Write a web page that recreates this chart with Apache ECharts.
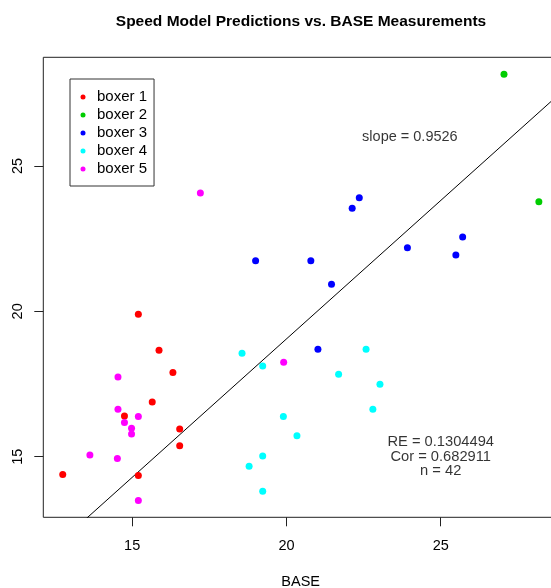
<!DOCTYPE html>
<html>
<head>
<meta charset="utf-8">
<script src="https://cdn.jsdelivr.net/npm/echarts@6/dist/echarts.min.js"></script>
<style>
  html, body { margin: 0; padding: 0; background: #fff; }
  #chart { width: 551px; height: 588px; }
</style>
</head>
<body>
<div id="chart"></div>
<script>
// BASE measurements (x) and model predictions (y) for each boxer
const boxer1Base = [15.20, 15.87, 16.32, 15.65, 14.75, 16.54, 16.54, 12.75, 15.20];
const boxer1Pred = [19.90, 18.66, 17.90, 16.88, 16.40, 15.95, 15.38, 14.39, 14.35];

const boxer2Base = [27.05, 28.18];
const boxer2Pred = [28.16, 23.77];

const boxer3Base = [22.36, 22.13, 25.71, 23.92, 25.49, 20.79, 19.00, 21.46, 21.02];
const boxer3Pred = [23.91, 23.55, 22.56, 22.19, 21.94, 21.74, 21.74, 20.93, 18.70];

const boxer4Base = [18.56, 19.23, 22.58, 21.69, 23.03, 22.80, 19.90, 20.34, 19.23, 18.79, 19.23];
const boxer4Pred = [18.56, 18.12, 18.70, 17.84, 17.49, 16.63, 16.38, 15.72, 15.02, 14.67, 13.81];

const boxer5Base = [17.21, 19.91, 14.54, 14.54, 15.20, 14.75, 14.98, 14.98, 13.63, 14.52, 15.20];
const boxer5Pred = [24.07, 18.25, 17.74, 16.63, 16.38, 16.18, 15.98, 15.78, 15.06, 14.94, 13.49];

const boxerNames = ['boxer 1', 'boxer 2', 'boxer 3', 'boxer 4', 'boxer 5'];
const boxerColors = ['#FF0000', '#00CD00', '#0000FF', '#00FFFF', '#FF00FF'];

// fitted line through the origin and summary statistics
const slope = 0.9526;
const relErr = '0.1304494';
const corr = '0.682911';
const nObs = 42;

// axis ranges and tick labels
const xRange = [12.12, 28.80];
const yRange = [12.915, 28.74];
const tickValues = [15, 20, 25];

const FONT = '"Liberation Sans", Arial, Helvetica, sans-serif';

const pairs = (xs, ys) => xs.map((x, i) => [x, ys[i]]);
const groups = [
  pairs(boxer1Base, boxer1Pred),
  pairs(boxer2Base, boxer2Pred),
  pairs(boxer3Base, boxer3Pred),
  pairs(boxer4Base, boxer4Pred),
  pairs(boxer5Base, boxer5Pred)
];

const chart = echarts.init(document.getElementById('chart'), null, { renderer: 'canvas' });

const pointSeries = groups.map((data, i) => ({
  name: boxerNames[i],
  type: 'scatter',
  data: data,
  symbol: 'circle',
  symbolSize: 7,
  itemStyle: { color: boxerColors[i], opacity: 1 },
  silent: true,
  z: 3
}));

const axisCommon = {
  type: 'value',
  axisLine: { show: false },
  splitLine: { show: false },
  axisTick: {
    show: true,
    inside: false,
    length: 9,
    customValues: tickValues,
    lineStyle: { color: '#222', width: 1 }
  }
};

chart.setOption({
  animation: false,
  backgroundColor: '#fff',
  textStyle: { fontFamily: FONT },
  title: {
    text: 'Speed Model Predictions vs. BASE Measurements',
    left: 296,
    textAlign: 'center',
    top: 9,
    textStyle: { fontFamily: FONT, fontSize: 15.5, fontWeight: 'bold', color: '#000' }
  },
  legend: {
    data: boxerNames,
    orient: 'vertical',
    left: 70,
    top: 79,
    padding: [9, 7, 8, 10.5],
    itemGap: 0,
    itemWidth: 5,
    itemHeight: 5,
    icon: 'circle',
    borderColor: '#333',
    borderWidth: 1,
    backgroundColor: '#fff',
    selectedMode: false,
    textStyle: { fontFamily: FONT, fontSize: 15, color: '#000', lineHeight: 18, padding: [0, 0, 0, 6.5] }
  },
  grid: {
    left: 43.3,
    top: 57.3,
    right: -7,
    bottom: 70.7,
    outerBoundsMode: 'none',
    containLabel: false,
    show: true,
    borderColor: '#222',
    borderWidth: 1,
    backgroundColor: 'transparent'
  },
  xAxis: Object.assign({}, axisCommon, {
    min: xRange[0],
    max: xRange[1],
    name: 'BASE',
    nameLocation: 'middle',
    nameGap: 57,
    nameTextStyle: { fontFamily: FONT, fontSize: 14.5, color: '#000' },
    axisLabel: {
      customValues: tickValues,
      margin: 21,
      fontFamily: FONT,
      fontSize: 14.5,
      color: '#000'
    }
  }),
  yAxis: Object.assign({}, axisCommon, {
    min: yRange[0],
    max: yRange[1],
    axisLabel: {
      customValues: tickValues,
      rotate: 90,
      margin: 18,
      fontFamily: FONT,
      fontSize: 14.5,
      color: '#000'
    }
  }),
  series: pointSeries.concat([
    {
      name: 'fit',
      type: 'line',
      data: xRange.map(x => [x, slope * x]),
      symbol: 'none',
      clip: true,
      silent: true,
      lineStyle: { color: '#000', width: 1 },
      z: 2
    },
    {
      name: 'slopeNote',
      type: 'scatter',
      data: [[24, 26]],
      symbolSize: 0,
      silent: true,
      label: {
        show: true,
        position: 'inside',
        formatter: 'slope = ' + slope.toFixed(4),
        fontFamily: FONT,
        fontSize: 14.5,
        color: '#000',
        align: 'center',
        verticalAlign: 'middle'
      }
    },
    {
      name: 'statsNote',
      type: 'scatter',
      data: [[25, 15]],
      symbolSize: 0,
      silent: true,
      label: {
        show: true,
        position: 'inside',
        formatter: 'RE = ' + relErr + '\nCor = ' + corr + '\nn = ' + nObs,
        fontFamily: FONT,
        fontSize: 14.7,
        lineHeight: 14.4,
        color: '#000',
        align: 'center',
        verticalAlign: 'middle'
      }
    }
  ])
});
</script>
</body>
</html>
